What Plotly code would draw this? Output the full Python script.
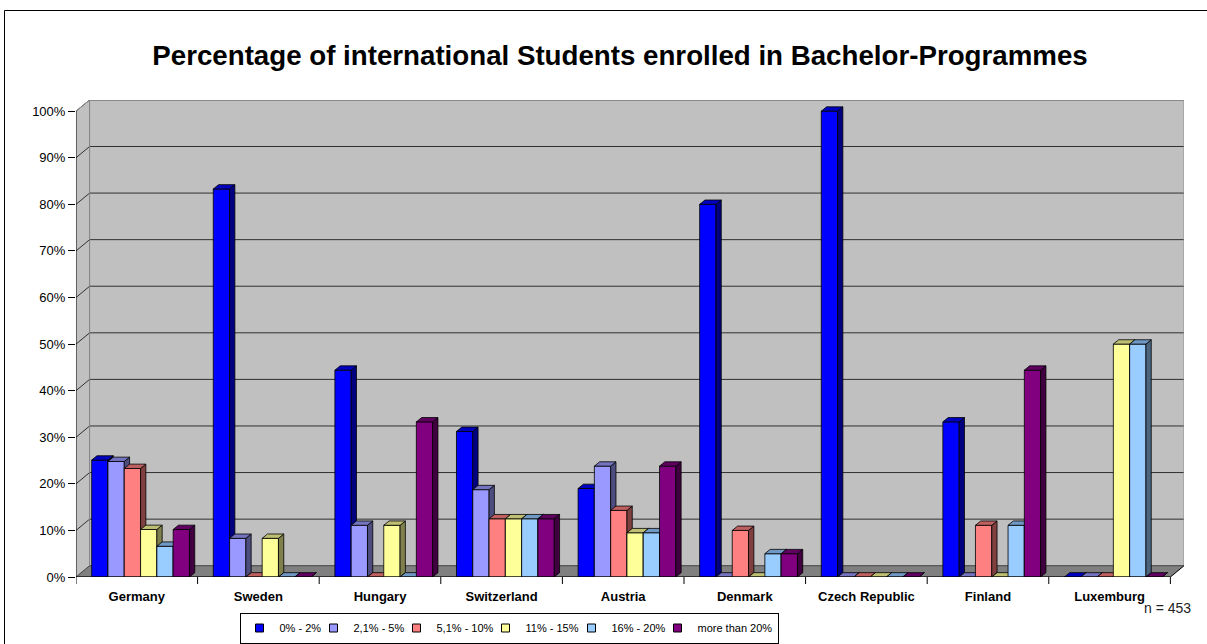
import plotly.graph_objects as go

# ---------------- data ----------------
countries = ["Germany", "Sweden", "Hungary", "Switzerland", "Austria",
             "Denmark", "Czech Republic", "Finland", "Luxemburg"]
series_names = ["0% - 2%", "2,1% - 5%", "5,1% - 10%", "11% - 15%", "16% - 20%", "more than 20%"]

share_0_2 = [25.1, 83.3, 44.4, 31.25, 19.0, 80.0, 100.0, 33.3, 0.0]
share_2_5 = [24.8, 8.3, 11.1, 18.75, 23.8, 0.0, 0.0, 0.0, 0.0]
share_5_10 = [23.3, 0.0, 0.0, 12.5, 14.3, 10.0, 0.0, 11.1, 0.0]
share_11_15 = [10.2, 8.3, 11.1, 12.5, 9.5, 0.0, 0.0, 0.0, 50.0]
share_16_20 = [6.6, 0.0, 0.0, 12.5, 9.5, 5.0, 0.0, 11.1, 50.0]
share_over_20 = [10.2, 0.0, 33.3, 12.5, 23.8, 5.0, 0.0, 44.4, 0.0]

y_ticks = [0, 10, 20, 30, 40, 50, 60, 70, 80, 90, 100]
note_text = "n = 453"
title_text = "Percentage of international Students enrolled in Bachelor-Programmes"

series_values = [share_0_2, share_2_5, share_5_10, share_11_15, share_16_20, share_over_20]

# ---------------- styles ----------------
front_colors = ["#0000FF", "#9999FF", "#FF8080", "#FFFF99", "#99CCFF", "#800080"]
side_colors = ["#000080", "#4D4D80", "#804040", "#80804D", "#4D6680", "#400040"]
top_colors = ["#0000C0", "#7373BF", "#BF6060", "#BFBF73", "#6F99C4", "#600060"]
legend_entry_widths = [29, 38, 44, 41, 41, None]   # compact legend spacing (px)

FONT = "Liberation Sans, Arial, sans-serif"
BAR_W = 0.134      # bar width in category units
FIRST = -0.371     # left edge of first bar relative to category centre
DX, DY = 0.0436, 0.93        # bar depth offset (x units, % units)
WDX, WDY = 0.112, 2.42       # wall depth offset
X0, X1 = -0.5, len(countries) - 0.5
Y_TOP = 102.4

fig = go.Figure()

for k, (name, vals) in enumerate(zip(series_names, series_values)):
    fx, fy, sx, sy, tx, ty = [], [], [], [], [], []
    for i, v in enumerate(vals):
        xl = i + FIRST + k * BAR_W
        xr = xl + BAR_W
        fx += [xl, xr, xr, xl, xl, None]
        fy += [0, 0, v, v, 0, None]
        sx += [xr, xr + DX, xr + DX, xr, xr, None]
        sy += [0, DY, v + DY, v, 0, None]
        tx += [xl, xl + DX, xr + DX, xr, xl, None]
        ty += [v, v + DY, v + DY, v, v, None]
    for xs, ys, col in ((fx, fy, front_colors[k]), (sx, sy, side_colors[k]), (tx, ty, top_colors[k])):
        fig.add_trace(go.Scatter(x=xs, y=ys, mode="lines", fill="toself",
                                 fillcolor=col, line=dict(color="black", width=0.8),
                                 legendgroup=name, showlegend=False, hoverinfo="skip"))

# legend entries (square swatches)
for k, name in enumerate(series_names):
    kw = {}
    if legend_entry_widths[k]:
        kw["legendwidth"] = legend_entry_widths[k]
    fig.add_trace(go.Scatter(x=[None], y=[None], mode="markers", name=name, legendgroup=name,
                             marker=dict(symbol="square", size=8, color=front_colors[k],
                                         line=dict(color="black", width=1)),
                             showlegend=True, hoverinfo="skip", **kw))

shapes = []
# floor
shapes.append(dict(type="path", xref="x", yref="y", layer="below",
                   path=f"M {X0},0 L {X1},0 L {X1 + WDX},{WDY} L {X0 + WDX},{WDY} Z",
                   fillcolor="#808080", line=dict(color="#404040", width=1)))
# white corners outside the 3D box
shapes.append(dict(type="path", xref="x", yref="y", layer="below",
                   path=f"M {X0},{Y_TOP} L {X0 + WDX},{Y_TOP} L {X0},{100} Z",
                   fillcolor="white", line=dict(width=0)))
shapes.append(dict(type="path", xref="x", yref="y", layer="below",
                   path=f"M {X1},0 L {X1 + WDX},0 L {X1 + WDX},{WDY} Z",
                   fillcolor="white", line=dict(width=0)))
# gridlines on side wall and back wall
for t in y_ticks[1:]:
    shapes.append(dict(type="path", xref="x", yref="y", layer="below",
                       path=f"M {X0},{t} L {X0 + WDX},{t + WDY} L {X1 + WDX},{t + WDY}",
                       line=dict(color="#303030", width=1)))
# wall edges
shapes.append(dict(type="line", xref="x", yref="y", layer="below",
                   x0=X0 + WDX, y0=WDY, x1=X0 + WDX, y1=Y_TOP,
                   line=dict(color="#808080", width=1)))
shapes.append(dict(type="line", xref="x", yref="y", layer="below",
                   x0=X1 + WDX, y0=WDY, x1=X1 + WDX, y1=Y_TOP,
                   line=dict(color="#909090", width=1)))
shapes.append(dict(type="path", xref="x", yref="y", layer="below",
                   path=f"M {X0},100 L {X0 + WDX},{Y_TOP} L {X1 + WDX},{Y_TOP}",
                   line=dict(color="#909090", width=1)))
# front axes
shapes.append(dict(type="line", xref="x", yref="y", x0=X0, y0=0, x1=X0, y1=100,
                   line=dict(color="black", width=1)))
shapes.append(dict(type="line", xref="x", yref="y", x0=X0, y0=0, x1=X1, y1=0,
                   line=dict(color="black", width=1)))
shapes.append(dict(type="line", xref="x", yref="y", x0=X1, y0=0, x1=X1 + WDX, y1=WDY,
                   line=dict(color="black", width=1)))
# category boundary tick marks
for b in range(len(countries) + 1):
    shapes.append(dict(type="line", xref="x", yref="paper", x0=X0 + b, x1=X0 + b,
                       y0=0, y1=-7 / 477, line=dict(color="black", width=1)))
# outer chart border
shapes.append(dict(type="rect", xref="paper", yref="paper",
                   x0=(4.5 - 76) / 1108, x1=(1215 - 76) / 1108,
                   y0=(577 - 660) / 477, y1=(577 - 10.5) / 477,
                   line=dict(color="black", width=1), fillcolor="rgba(0,0,0,0)"))

fig.update_layout(
    width=1207, height=644,
    margin=dict(l=76, r=23, t=100, b=67, autoexpand=False),
    paper_bgcolor="white",
    plot_bgcolor="#C0C0C0",
    font=dict(family=FONT, color="black"),
    title=dict(text=title_text, x=620 / 1207, xref="container", xanchor="center",
               y=1 - 55 / 644, yref="container", yanchor="middle",
               font=dict(family=FONT, size=27.7, color="black", weight="bold")),
    xaxis=dict(range=[X0, X1 + WDX], tickmode="array", tickvals=list(range(len(countries))),
               ticktext=countries, ticks="", showgrid=False, zeroline=False, showline=False,
               tickfont=dict(family=FONT, size=13, color="black", weight="bold"),
               ticklabelstandoff=10, fixedrange=True, automargin=False),
    yaxis=dict(range=[0, Y_TOP], tickmode="array", tickvals=y_ticks,
               ticktext=[f"{t}%" for t in y_ticks], ticks="outside", ticklen=7,
               tickcolor="black", showgrid=False, zeroline=False, showline=False,
               tickfont=dict(family=FONT, size=13, color="black"), fixedrange=True,
               automargin=False),
    legend=dict(orientation="h", xref="container", yref="container",
                x=509 / 1207, xanchor="center", y=0.5 / 644, yanchor="bottom",
                bgcolor="white", bordercolor="black", borderwidth=1,
                font=dict(family=FONT, size=11, color="black"),
                itemwidth=30, tracegroupgap=0),
    shapes=shapes,
    annotations=[dict(text=note_text, xref="paper", yref="paper",
                      x=(1167 - 76) / 1108, y=(577 - 608) / 477,
                      xanchor="center", yanchor="middle", showarrow=False,
                      font=dict(family=FONT, size=14, color="#222222"))],
    showlegend=True,
)

fig.write_html("out.html", config={"displayModeBar": False},
               post_script="document.body.style.margin='0';document.body.style.overflow='hidden';")
